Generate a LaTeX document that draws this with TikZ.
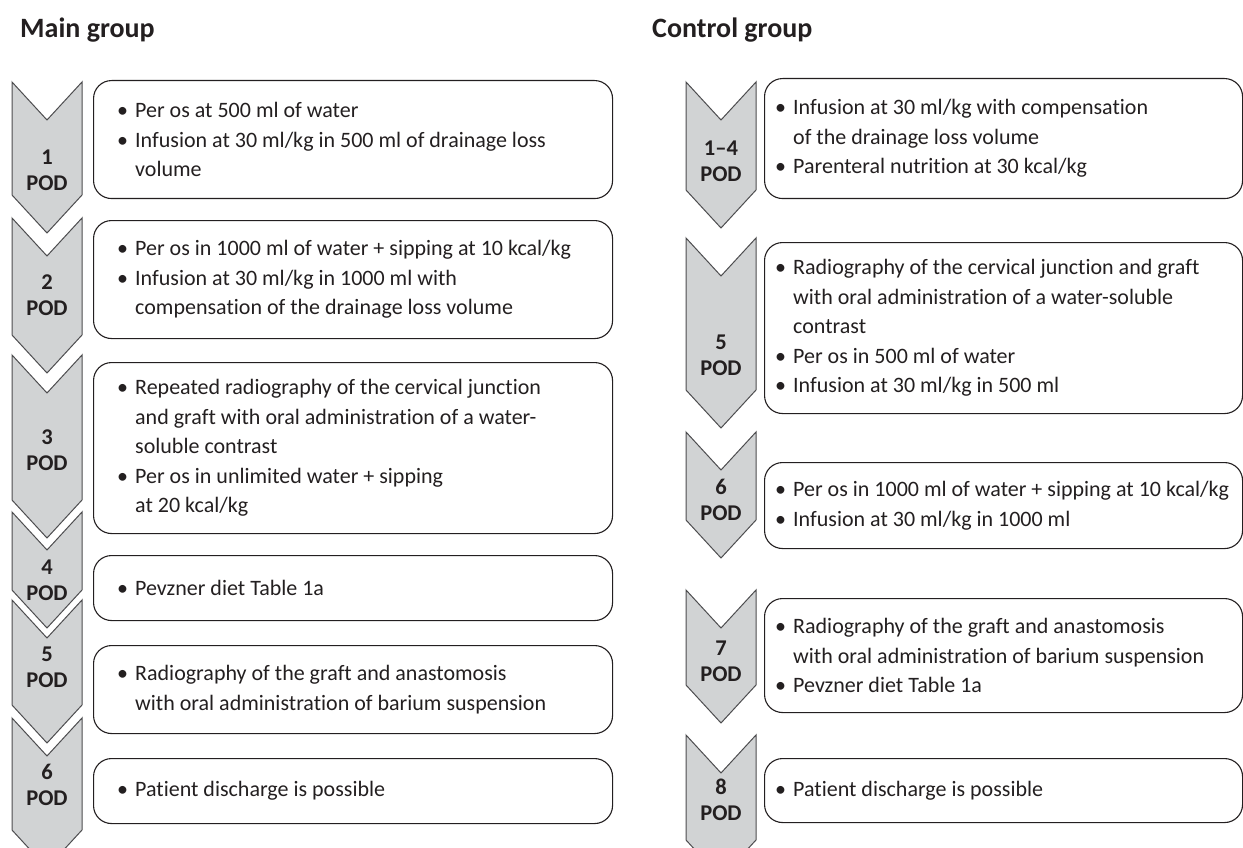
\documentclass[tikz,border=0pt]{standalone}
\usepackage{fontspec}
\setmainfont{Carlito}[Ligatures={NoCommon}]
\usetikzlibrary{positioning}

\definecolor{ink}{HTML}{231F20}
\definecolor{chevfill}{HTML}{D1D3D4}
\definecolor{chevline}{HTML}{4D4D4F}

\newcommand{\bul}{\makebox[18pt][l]{\textbullet}}
\newcommand{\cont}{\hspace*{18pt}}

\begin{document}
\begin{tikzpicture}[
    x = 1pt, y = -1pt,
    every node/.style = {text = ink},
    heading/.style = {anchor = west, inner sep = 0, font = \fontsize{28}{32}\selectfont\bfseries},
    frame/.style = {draw = ink, line width = 1.1pt, rounded corners = 18pt, anchor = north west, inner sep = 0},
    items/.style = {anchor = west, align = left, inner sep = 0, font = \fontsize{22}{29.5}\selectfont},
    chev/.style = {fill = chevfill, draw = chevline, line width = 1pt, line join = miter},
    podlabel/.style = {align = center, inner sep = 0, font = \fontsize{22.5}{26}\selectfont\bfseries}]

\useasboundingbox (0,0) rectangle (1243,848);

% headings
\node[heading] (main) at (20,30) {Main group};
\node[heading] (control) at (652,30) {Control group};

% chevrons, main group
\foreach \yt/\yb/\ly/\lab [count=\i] in
    {82/195/170/1, 218/335/295/2, 355/500/450/3, 512/590/580/4, 600/705/667/5, 718/830/785/6}
{
  \draw[chev] (12,\yt) -- (47,\yt+38) -- (82,\yt) -- (82,\yb) -- (47,\yb+38) -- (12,\yb) -- cycle;
  \node[podlabel] (lpod\i) at (47,\ly) {\lab\\POD};
}

% chevrons, control group
\foreach \yt/\yb/\ly/\lab [count=\i] in
    {82/190/161/1–4, 238/390/355/5, 432/520/500/6, 590/685/661/7, 735/840/800/8}
{
  \draw[chev] (686,\yt) -- (721,\yt+38) -- (756,\yt) -- (756,\yb) -- (721,\yb+38) -- (686,\yb) -- cycle;
  \node[podlabel] (rpod\i) at (721,\ly) {\lab\\POD};
}

% main group boxes
\node[frame, minimum width = 519, minimum height = 118] (b1) at (93,80) {};
\node[frame, minimum width = 519, minimum height = 118] (b2) at (93,220) {};
\node[frame, minimum width = 519, minimum height = 171] (b3) at (93,362) {};
\node[frame, minimum width = 519, minimum height = 65] (b4) at (93,555) {};
\node[frame, minimum width = 519, minimum height = 88] (b5) at (93,645) {};
\node[frame, minimum width = 519, minimum height = 65] (b6) at (93,758) {};

\node[items] (t1) at ([xshift=24pt]b1.west)
  {\bul Per os at 500 ml of water\\
   \bul Infusion at 30 ml/kg in 500 ml of drainage loss\\
   \cont volume};
\node[items] (t2) at ([xshift=24pt]b2.west)
  {\bul Per os in 1000 ml of water + sipping at 10 kcal/kg\\
   \bul Infusion at 30 ml/kg in 1000 ml with\\
   \cont compensation of the drainage loss volume};
\node[items] (t3) at ([xshift=24pt]b3.west)
  {\bul Repeated radiography of the cervical junction\\
   \cont and graft with oral administration of a water-\\
   \cont soluble contrast\\
   \bul Per os in unlimited water + sipping\\
   \cont at 20 kcal/kg};
\node[items] (t4) at ([xshift=24pt]b4.west)
  {\bul Pevzner diet Table 1a};
\node[items] (t5) at ([xshift=24pt]b5.west)
  {\bul Radiography of the graft and anastomosis\\
   \cont with oral administration of barium suspension};
\node[items] (t6) at ([xshift=24pt]b6.west)
  {\bul Patient discharge is possible};

% control group boxes
\node[frame, minimum width = 478, minimum height = 120] (r1) at (764,78) {};
\node[frame, minimum width = 478, minimum height = 171] (r2) at (764,242) {};
\node[frame, minimum width = 478, minimum height = 86] (r3) at (764,462) {};
\node[frame, minimum width = 478, minimum height = 114] (r4) at (764,598) {};
\node[frame, minimum width = 478, minimum height = 64] (r5) at (764,758) {};

\node[items] (s1) at ([xshift=11pt]r1.west)
  {\bul Infusion at 30 ml/kg with compensation\\
   \cont of the drainage loss volume\\
   \bul Parenteral nutrition at 30 kcal/kg};
\node[items] (s2) at ([xshift=11pt]r2.west)
  {\bul Radiography of the cervical junction and graft\\
   \cont with oral administration of a water-soluble\\
   \cont contrast\\
   \bul Per os in 500 ml of water\\
   \bul Infusion at 30 ml/kg in 500 ml};
\node[items] (s3) at ([xshift=11pt]r3.west)
  {\bul Per os in 1000 ml of water + sipping at 10 kcal/kg\\
   \bul Infusion at 30 ml/kg in 1000 ml};
\node[items] (s4) at ([xshift=11pt]r4.west)
  {\bul Radiography of the graft and anastomosis\\
   \cont with oral administration of barium suspension\\
   \bul Pevzner diet Table 1a};
\node[items] (s5) at ([xshift=11pt]r5.west)
  {\bul Patient discharge is possible};
\end{tikzpicture}
\end{document}
